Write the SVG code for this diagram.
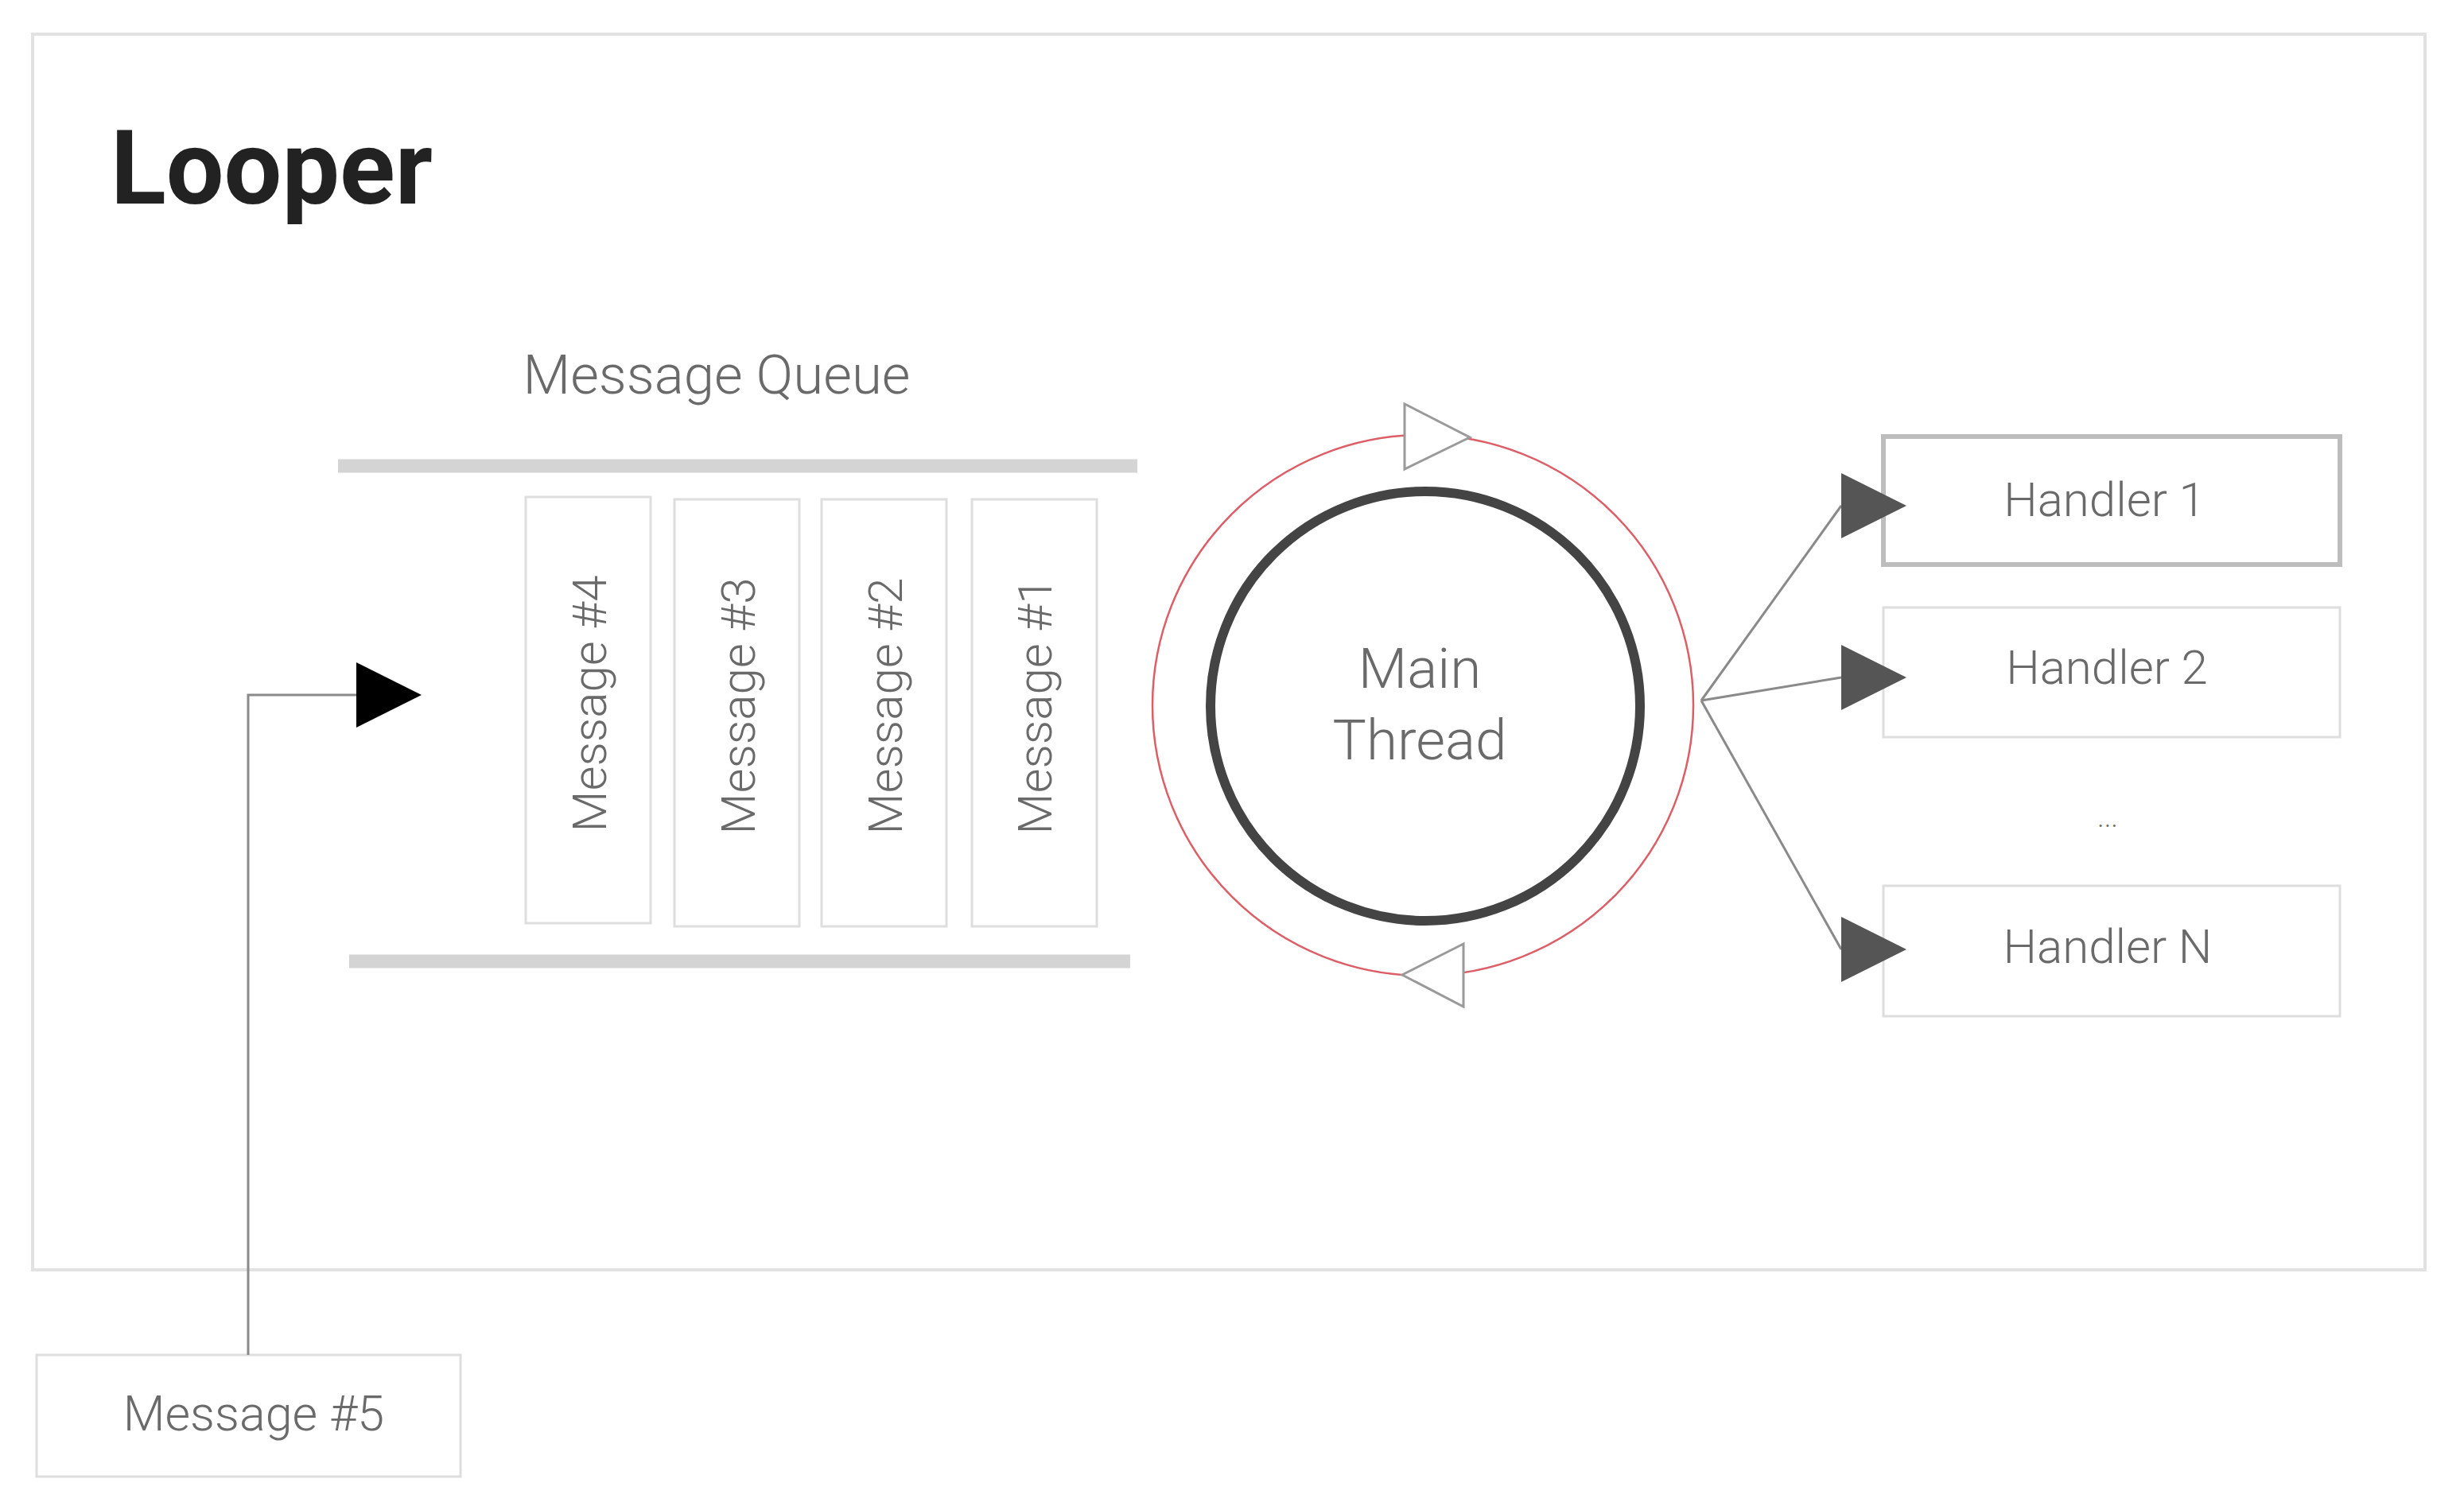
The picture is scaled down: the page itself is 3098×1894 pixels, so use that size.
<svg xmlns="http://www.w3.org/2000/svg" width="3098" height="1894" viewBox="0 0 3098 1894">
<style>
.lbl{font-family:Roboto,"Liberation Sans",sans-serif;font-weight:300;fill:#6a6a6a;}
.box{fill:#fff;stroke:#dedede;stroke-width:3;}
.bar{stroke:#d4d4d4;stroke-width:17;}
.conn{fill:none;stroke:#8a8a8a;stroke-width:3;}
</style>
<defs>
<marker id="hd" markerUnits="userSpaceOnUse" markerWidth="90" markerHeight="90" refX="0" refY="41" orient="0" viewBox="0 0 90 90">
<polygon points="0,0 82,41 0,82" fill="#555"/>
</marker>
<marker id="bk" markerUnits="userSpaceOnUse" markerWidth="90" markerHeight="90" refX="0" refY="41" orient="0" viewBox="0 0 90 90">
<polygon points="0,0 82,41 0,82" fill="#000"/>
</marker>
</defs>
<rect width="3098" height="1894" fill="#fff"/>
<g id="frame">
<rect x="41" y="43" width="3008" height="1554" fill="#fff" stroke="#e2e2e2" stroke-width="4"/>
<text x="139" y="256" font-family="Roboto,'Liberation Sans',sans-serif" font-weight="700" font-size="129" fill="#222">Looper</text>
</g>
<g id="queue">
<text class="lbl" x="901" y="495" font-size="69" text-anchor="middle">Message Queue</text>
<line class="bar" x1="425" y1="586" x2="1430" y2="586"/>
<line class="bar" x1="439" y1="1209" x2="1421" y2="1209"/>
</g>
<g id="msg4"><rect class="box" x="661" y="625" width="157" height="536"/><text class="lbl" font-size="60" text-anchor="middle" transform="translate(762,885) rotate(-90)">Message #4</text></g>
<g id="msg3"><rect class="box" x="848" y="628" width="157" height="537"/><text class="lbl" font-size="60" text-anchor="middle" transform="translate(949,888) rotate(-90)">Message #3</text></g>
<g id="msg2"><rect class="box" x="1033" y="628" width="157" height="537"/><text class="lbl" font-size="60" text-anchor="middle" transform="translate(1134,888) rotate(-90)">Message #2</text></g>
<g id="msg1"><rect class="box" x="1222" y="628" width="157" height="537"/><text class="lbl" font-size="60" text-anchor="middle" transform="translate(1322,888) rotate(-90)">Message #1</text></g>
<g id="msg5"><rect class="box" x="46" y="1704" width="533" height="153"/><text class="lbl" x="319" y="1799" font-size="61" text-anchor="middle">Message #5</text></g>
<g id="loop">
<circle cx="1789" cy="887" r="340" fill="none" stroke="#dc5e66" stroke-width="2.5"/>
<polygon points="1766,508 1848,550 1766,590" fill="#fff" stroke="#9a9a9a" stroke-width="3"/>
<polygon points="1840,1187 1763,1226 1840,1266" fill="#fff" stroke="#9a9a9a" stroke-width="3"/>
</g>
<g id="main-thread">
<circle cx="1792" cy="888" r="270" fill="#fff" stroke="#444" stroke-width="12"/>
<text class="lbl" x="1785" y="865" font-size="71" text-anchor="middle">Main</text>
<text class="lbl" x="1785" y="955" font-size="71" text-anchor="middle">Thread</text>
</g>
<g id="handler1"><rect x="2368" y="549" width="574" height="161" fill="#fff" stroke="#bdbdbd" stroke-width="6"/><text class="lbl" x="2646" y="649" font-size="60" text-anchor="middle">Handler 1</text></g>
<g id="handler2"><rect class="box" x="2368" y="764" width="574" height="163"/><text class="lbl" x="2649" y="860" font-size="60" text-anchor="middle">Handler 2</text></g>
<g id="ellipsis"><text class="lbl" x="2650" y="1040" font-size="36" text-anchor="middle">...</text></g>
<g id="handlerN"><rect class="box" x="2368" y="1114" width="574" height="164"/><text class="lbl" x="2650" y="1211" font-size="60" text-anchor="middle">Handler N</text></g>
<g id="connectors">
<polyline class="conn" points="312,1704 312,874 448,874" marker-end="url(#bk)"/>
<line class="conn" x1="2139" y1="881" x2="2315" y2="636" marker-end="url(#hd)"/>
<line class="conn" x1="2139" y1="881" x2="2315" y2="852" marker-end="url(#hd)"/>
<line class="conn" x1="2139" y1="881" x2="2315" y2="1194" marker-end="url(#hd)"/>
</g>
</svg>
